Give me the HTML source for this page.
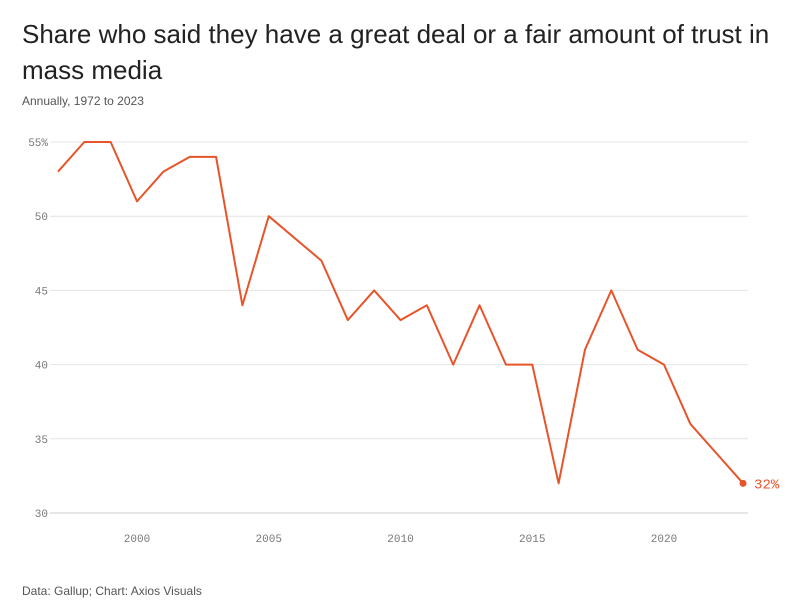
<!DOCTYPE html>
<html><head><meta charset="utf-8"><style>
body{margin:0;background:#fff;width:806px;height:615px;overflow:hidden;font-family:"Liberation Sans",sans-serif}
.t{position:absolute;left:22px;top:16px;width:780px;font-size:26px;line-height:36px;color:#222}
.s{position:absolute;left:22px;top:94px;font-size:12px;color:#555}
.f{position:absolute;left:22px;top:584px;font-size:12px;color:#555}
svg{position:absolute;left:0;top:0}
</style></head><body>
<div class="t">Share who said they have a great deal or a fair amount of trust in mass media</div>
<div class="s">Annually, 1972 to 2023</div>
<div class="f">Data: Gallup; Chart: Axios Visuals</div>
<svg width="806" height="615"><g id="g"></g></svg>
<script>
const years=[1997,1998,1999,2000,2001,2002,2003,2004,2005,2007,2008,2009,2010,2011,2012,2013,2014,2015,2016,2017,2018,2019,2020,2021,2022,2023];
const values=[53,55,55,51,53,54,54,44,50,47,43,45,43,44,40,44,40,40,32,41,45,41,40,36,34,32];
const yTicks=[30,35,40,45,50,55];
const xTicks=[2000,2005,2010,2015,2020];
const X=y=>137+(y-2000)*26.35, Y=v=>513-(v-30)*14.84;
const g=document.getElementById('g'),NS='http://www.w3.org/2000/svg';
function mk(t,a,txt){const e=document.createElementNS(NS,t);for(const k in a)e.setAttribute(k,a[k]);if(txt!=null)e.textContent=txt;g.appendChild(e);return e;}
yTicks.forEach(v=>{
 const l=mk('line',{x1:50,x2:748,y1:Y(v),y2:Y(v),stroke:v==30?'#ccc':'#e4e4e4','stroke-width':1});
 
 
 const t=mk('text',{x:48,y:Y(v)+4,'text-anchor':'end','font-size':11,fill:'#777','font-family':'Liberation Mono,monospace'},v==55?'55%':v);
 
 
});
xTicks.forEach(v=>{
 const t=mk('text',{x:X(v),y:542,'text-anchor':'middle','font-size':11,fill:'#777','font-family':'Liberation Mono,monospace'},v);
 
 
});
const p=mk('path',{d:years.map((y,i)=>(i?'L':'M')+X(y)+','+Y(values[i])).join(''),fill:'none',stroke:'#e8542a','stroke-width':2,'stroke-linejoin':'round'});


const n=years.length-1;
const c=mk('circle',{cx:X(years[n]),cy:Y(values[n]),r:3.5,fill:'#e8542a'});


const lt=mk('text',{x:X(years[n])+11,y:Y(values[n])+5,'font-size':14,fill:'#e8542a','font-family':'Liberation Mono,monospace'},values[n]+'%');


</script>
</body></html>
